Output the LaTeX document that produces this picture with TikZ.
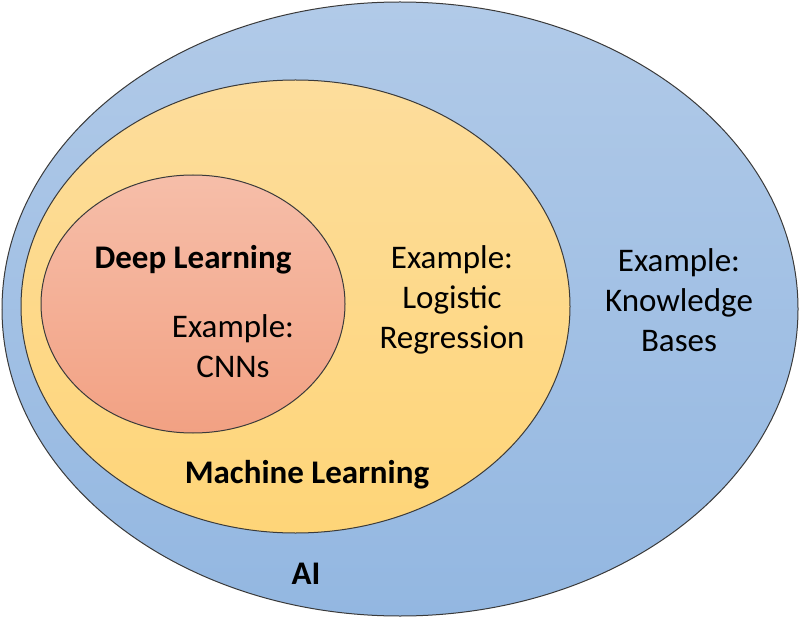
\documentclass[tikz,border=0pt]{standalone}
\usepackage{fontspec}
\setmainfont{Carlito}
\definecolor{aitop}{HTML}{B1CAE8}
\definecolor{aibot}{HTML}{93B7E1}
\definecolor{mltop}{HTML}{FDDD9C}
\definecolor{mlbot}{HTML}{FED578}
\definecolor{dltop}{HTML}{F6BEA9}
\definecolor{dlbot}{HTML}{F2A183}
\definecolor{edge}{HTML}{3A3A3A}
\begin{document}
\begin{tikzpicture}[x=1pt,y=-1pt,
  ring/.style={draw=edge,line width=1pt},
  lbl/.style={font=\fontsize{33}{40}\selectfont,align=center,inner sep=0pt,text=black},
  title/.style={font=\fontsize{33}{40}\selectfont\bfseries,inner sep=0pt,text=black}]
\useasboundingbox (0,0) rectangle (800,620);
\path[ring,top color=aitop,bottom color=aibot] (400,309) ellipse [x radius=398,y radius=307];
\path[ring,top color=mltop,bottom color=mlbot] (295.5,306.5) ellipse [x radius=274.5,y radius=226.5];
\path[ring,top color=dltop,bottom color=dlbot] (193,304) ellipse [x radius=152,y radius=129];
\node[title] (dl) at (193,260) {Deep Learning};
\node[lbl] (dlex) at (233,346) {Example:\\CNNs};
\node[lbl] (mlex) at (452,300) {Example:\\Logistic\\Regression};
\node[lbl] (aiex) at (679,300) {Example:\\Knowledge\\Bases};
\node[title] (ml) at (307,475) {Machine Learning};
\node[title] (ai) at (306,574) {AI};
\end{tikzpicture}
\end{document}
